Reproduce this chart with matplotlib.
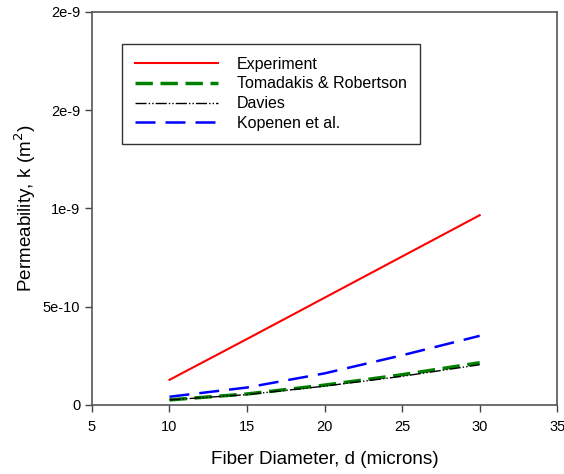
import matplotlib
matplotlib.use("Agg")
import matplotlib.pyplot as plt
from matplotlib.ticker import FixedLocator, FixedFormatter

plt.rcParams['font.family'] = ['Liberation Sans', 'DejaVu Sans']

# fiber diameter (microns)
d = [10, 15, 20, 25, 30]

# permeability k (m^2)
experiment = [1.27e-10, 3.35e-10, 5.45e-10, 7.55e-10, 9.65e-10]
tomadakis = [0.25e-10, 0.55e-10, 1.00e-10, 1.53e-10, 2.14e-10]
davies = [0.25e-10, 0.52e-10, 0.95e-10, 1.45e-10, 2.04e-10]
kopenen = [0.41e-10, 0.88e-10, 1.60e-10, 2.52e-10, 3.51e-10]

yticks = [0, 5e-10, 1e-9, 1.5e-9, 2e-9]
ytick_labels = ['0', '5e-10', '1e-9', '2e-9', '2e-9']

fig = plt.figure(figsize=(5.64, 4.74), dpi=100)
ax = fig.add_axes([0.163, 0.146, 0.825, 0.829])

ax.plot(d, experiment, color='red', lw=1.5, label='Experiment')
ax.plot(d, tomadakis, color='green', lw=2.5, dashes=(5, 2.2), label='Tomadakis & Robertson')
ax.plot(d, davies, color='black', lw=1.0, dashes=(8, 1.5, 1, 1.5, 1, 1.5), label='Davies')
ax.plot(d, kopenen, color='blue', lw=1.8, dashes=(8, 4), label='Kopenen et al.')

ax.set_xlim(5, 35)
ax.set_ylim(0, 2e-9)
ax.set_xticks([5, 10, 15, 20, 25, 30, 35])
ax.yaxis.set_major_locator(FixedLocator(yticks))
ax.yaxis.set_major_formatter(FixedFormatter(ytick_labels))

ax.tick_params(direction='out', length=5, width=1, colors='#444444', labelcolor='black', labelsize=10.5)
ax.tick_params(axis='x', pad=6)
for s in ax.spines.values():
    s.set_color('#555555')
    s.set_linewidth(1.2)

ax.set_xlabel('Fiber Diameter, d (microns)', fontsize=13.6, labelpad=12)
ax.set_ylabel('Permeability, k (m$^2$)', fontsize=13.6, labelpad=3)

leg = ax.legend(loc='upper left', bbox_to_anchor=(0.0645, 0.9186), borderaxespad=0,
                fontsize=11.5, fancybox=False, framealpha=1, edgecolor='#333333',
                handlelength=5.2, handletextpad=1.2, borderpad=0.8, labelspacing=0.3)
leg.get_frame().set_linewidth(1.0)

fig.savefig('out.png', dpi=100)
